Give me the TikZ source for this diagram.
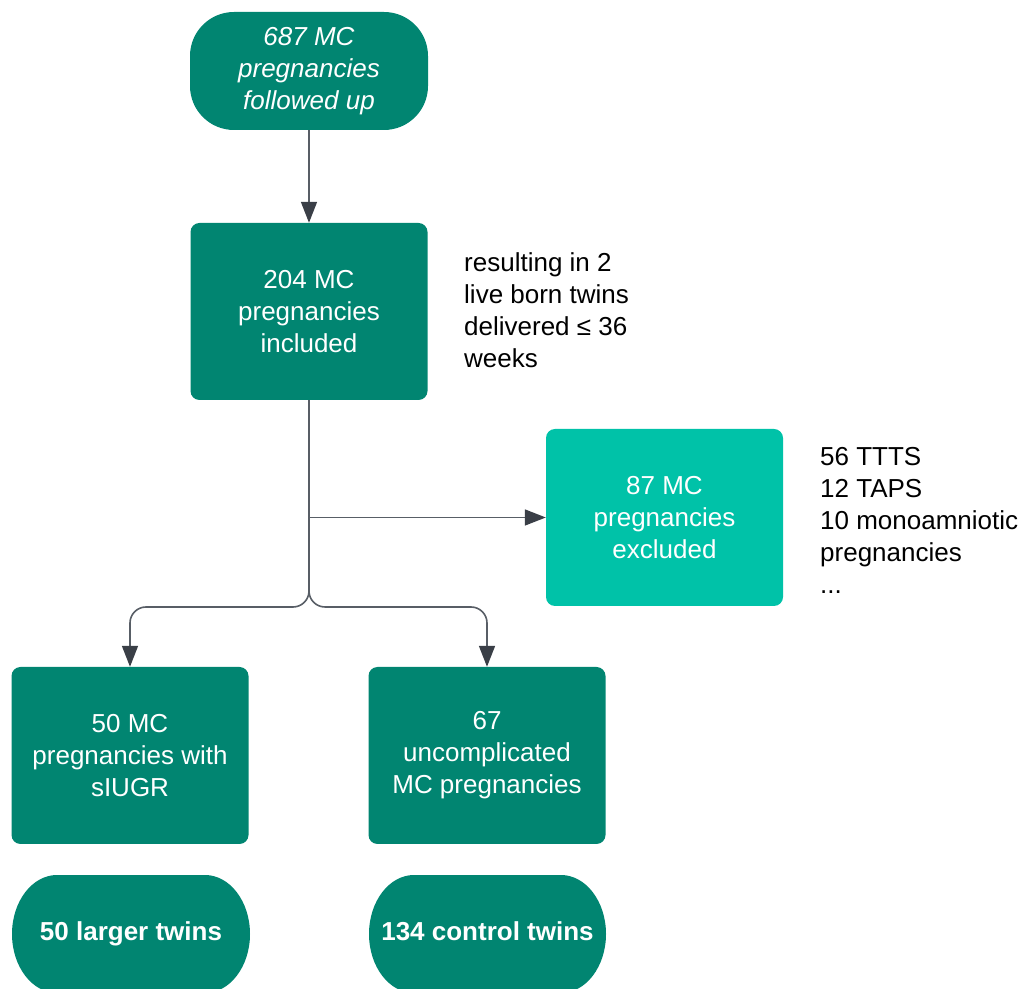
\documentclass[tikz,border=0pt]{standalone}
\usepackage{fontspec}
\setmainfont{Liberation Sans}
\usetikzlibrary{arrows.meta}
\definecolor{darkteal}{RGB}{1,133,113}
\definecolor{lightteal}{RGB}{0,194,168}
\definecolor{linegray}{RGB}{88,94,102}
\definecolor{tipgray}{RGB}{58,63,71}
\begin{document}
\begin{tikzpicture}[x=1pt,y=1pt,
  boxtext/.style={text=white,align=center,font=\fontsize{26}{32}\selectfont,inner sep=0pt},
  procbox/.style={boxtext,fill=darkteal,rounded corners=9pt,minimum width=237pt,minimum height=177pt},
  exclbox/.style={procbox,fill=lightteal},
  sidetext/.style={align=left,font=\fontsize{26}{32}\selectfont,inner sep=0pt,anchor=west},
  termtext/.style={text=white,font=\fontsize{26}{32}\selectfont\bfseries,inner sep=0pt,anchor=base},
  conn/.style={draw=linegray,line width=1.6pt,-{Triangle[length=21pt,width=16pt,color=tipgray]}},
]
\useasboundingbox (0,0) rectangle (1033,988);

% top terminator
\node[boxtext,fill=darkteal,rounded corners=44pt,minimum width=238pt,minimum height=118pt,
      font=\fontsize{26}{32}\selectfont\itshape] (top) at (309,917) {687 MC\\pregnancies\\followed up};

\node[procbox] (b2) at (309,676.5) {204 MC\\pregnancies\\included};
\node[sidetext] (s2) at (464,678) {resulting in 2\\live born twins\\delivered ≤ 36\\weeks};

\node[exclbox] (b87) at (664.5,470.5) {87 MC\\pregnancies\\excluded};
\node[sidetext] (s87) at (820,468) {56 TTTS\\12 TAPS\\10 monoamniotic\\pregnancies\\...};

\node[procbox] (b50) at (130,232.5) {50 MC\\pregnancies with\\sIUGR};
\node[procbox] (b67) at (487,232.5) {67\\uncomplicated\\MC pregnancies};

% bottom terminators (elliptical corners)
\fill[darkteal] (57,113) -- (205,113) arc[start angle=90,end angle=0,x radius=45,y radius=59]
  -- (250,54) arc[start angle=0,end angle=-90,x radius=45,y radius=59]
  -- (57,-5) arc[start angle=270,end angle=180,x radius=45,y radius=59]
  -- (12,54) arc[start angle=180,end angle=90,x radius=45,y radius=59] -- cycle;
\fill[darkteal] (414,113) -- (561,113) arc[start angle=90,end angle=0,x radius=45,y radius=59]
  -- (606,54) arc[start angle=0,end angle=-90,x radius=45,y radius=59]
  -- (414,-5) arc[start angle=270,end angle=180,x radius=45,y radius=59]
  -- (369,54) arc[start angle=180,end angle=90,x radius=45,y radius=59] -- cycle;
\node[termtext] (t50) at (131,48) {50 larger twins};
\node[termtext] (t134) at (487.5,48) {134 control twins};

% connectors
\draw[conn] (top.south) -- (b2.north);
\draw[conn] (b2.south |- b87.west) -- (b87.west);
\draw[conn,rounded corners=16pt] (b2.south) -- (309,381) -| (b50.north);
\draw[conn,rounded corners=16pt] (b2.south) -- (309,381) -| (b67.north);
\end{tikzpicture}
\end{document}
